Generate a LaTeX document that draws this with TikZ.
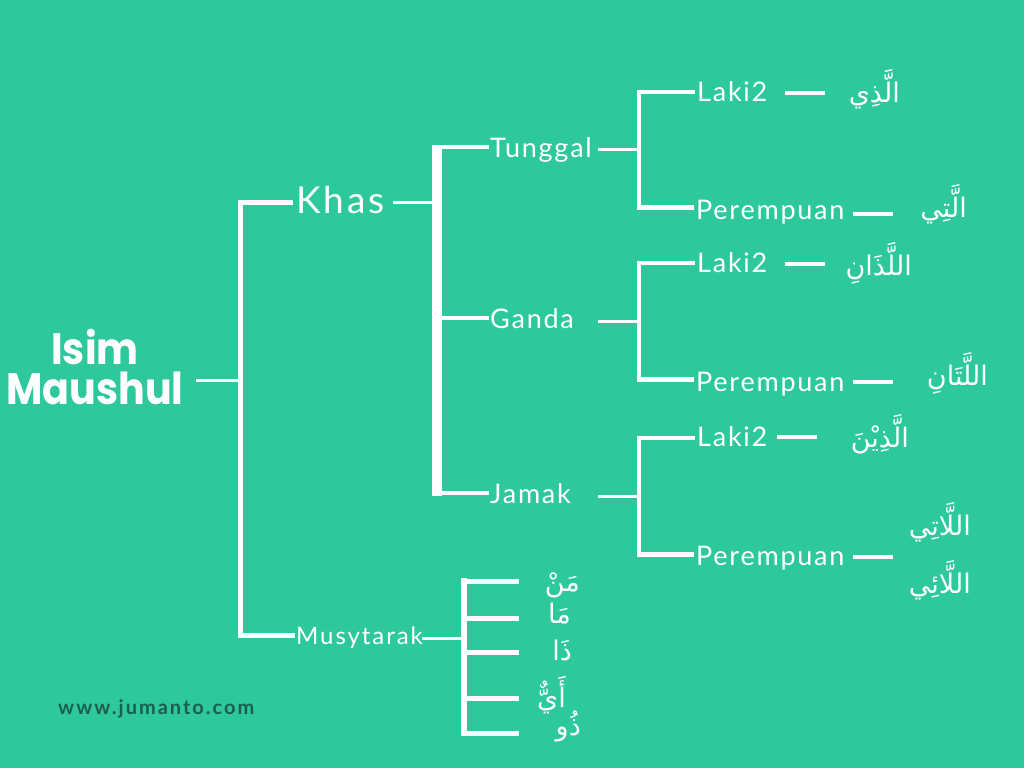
\documentclass[tikz,border=0pt]{standalone}
\usepackage{fontspec}
\setmainfont{Lato}
\newfontfamily\lato[LetterSpace=6.5]{Lato}
\newfontfamily\latok[LetterSpace=8]{Lato}
\newfontfamily\latom[LetterSpace=8]{Lato}
\newfontfamily\latow[LetterSpace=10]{Lato}
\newfontfamily\pop[FakeStretch=0.9]{Poppins}
\newfontfamily\arabicfont[Script=Arabic]{DejaVu Sans}
\TeXXeTstate=1
\definecolor{bg}{RGB}{45,201,157}
\definecolor{dk}{RGB}{27,94,75}
\begin{document}
\begin{tikzpicture}[x=1pt,y=-1pt,
  txt/.style={text=white,inner sep=0pt,anchor=base west},
  big/.style={txt,font=\latok\fontsize{37}{40}\selectfont},
  lbl/.style={txt,font=\lato\fontsize{27}{30}\selectfont},
  mlbl/.style={txt,font=\latom\fontsize{24}{28}\selectfont},
  title/.style={text=white,inner sep=0pt,anchor=base,font=\pop\bfseries\fontsize{44}{48}\selectfont},
  ar/.style={text=white,inner sep=0pt,anchor=base east,font=\arabicfont\fontsize{27}{30}\selectfont},
  lnA/.style={draw=white,line width=3pt},
  lnB/.style={draw=white,line width=4.5pt,line join=miter},
  lnC/.style={draw=white,line width=5pt,line join=miter},
  dashln/.style={draw=white,line width=4pt}]
\useasboundingbox (0,0) rectangle (1024,768);
\fill[bg] (0,0) rectangle (1024,768);

% ---- text nodes
\node[title] (isim1) at (95,364) {Isim};
\node[title] (isim2) at (95,404) {Maushul};
\node[big] (khas) at (296,213) {Khas};
\node[mlbl] (mus) at (296,644) {Musytarak};
\node[lbl] (tung) at (490,157) {Tunggal};
\node[lbl] (ganda) at (490,328) {Ganda};
\node[lbl] (jamak) at (490,503) {Jamak};
\node[lbl] (lakiA) at (697,101) {Laki2};
\node[lbl] (perA) at (696,219) {Perempuan};
\node[lbl] (lakiB) at (697,272) {Laki2};
\node[lbl] (perB) at (696,391) {Perempuan};
\node[lbl] (lakiC) at (697,446) {Laki2};
\node[lbl] (perC) at (696,565) {Perempuan};
\node[inner sep=0pt,anchor=base west,text=dk,font=\latow\bfseries\fontsize{20}{24}\selectfont] (web) at (58,714) {www.jumanto.com};

\node[ar] (arA1) at (900,102) {\beginR الَّذِي\endR};
\node[ar] (arA2) at (967,217) {\beginR الَّتِي\endR};
\node[ar] (arB1) at (912,275) {\beginR اللَّذَانِ\endR};
\node[ar] (arB2) at (988,385) {\beginR اللَّتَانِ\endR};
\node[ar] (arC1) at (909,447) {\beginR الَّذِيْنَ\endR};
\node[ar] (arC2) at (971,535) {\beginR اللَّاتِي\endR};
\node[ar] (arC3) at (971,593) {\beginR اللَّائِي\endR};
\node[ar] (m1) at (580,591) {\beginR مَنْ\endR};
\node[ar] (m2) at (571,623) {\beginR مَا\endR};
\node[ar] (m3) at (572,660) {\beginR ذَا\endR};
\node[ar] (m4) at (566,707) {\beginR أَيٌّ\endR};
\node[ar] (m5) at (581,735) {\beginR ذُو\endR};

% ---- junction coordinates
\coordinate (i0) at (196,380);
\coordinate (j0) at (240,380);
\coordinate (b1t) at (240,202);
\coordinate (b1b) at (240,635);
\coordinate (k0) at (393,202);
\coordinate (k1) at (436,202);
\coordinate (bart) at (436.5,145);
\coordinate (barb) at (436.5,496);
\coordinate (t0) at (598,149);
\coordinate (t1) at (639,149);
\coordinate (g0) at (598,321);
\coordinate (g1) at (639,321);
\coordinate (q0) at (598,496);
\coordinate (q1) at (639,496);
\coordinate (u0) at (422,638);
\coordinate (u1) at (464,638);

% ---- main bracket
\draw[lnA] (i0) -- (j0);
\draw[lnC] ([xshift=-3pt]b1t -| khas.west) -- (b1t) -- (b1b) -- ([xshift=-1pt]b1b -| mus.west);

% ---- Khas bracket
\draw[lnA] (k0) -- (k1);
\draw[draw=white,line width=10pt] (bart) -- (barb);
\draw[lnB] (441,147) -- ([xshift=-1pt]tung.west |- 0,147);
\draw[lnB] (441,318) -- ([xshift=-1pt]ganda.west |- 0,318);
\draw[lnB] (441,493) -- ([xshift=-1pt]jamak.west |- 0,493);

% ---- Tunggal
\draw[lnA] (t0) -- (t1);
\draw[lnB] ([xshift=-2pt]lakiA.west |- 0,92) -- (639,92) -- (639,207.5) -- ([xshift=-2pt]perA.west |- 0,207.5);
\draw[dashln] (785,93) -- (825,93);
\draw[dashln] (853,214) -- (893,214);

% ---- Ganda
\draw[lnA] (g0) -- (g1);
\draw[lnB] ([xshift=-2pt]lakiB.west |- 0,263) -- (639,263) -- (639,379.5) -- ([xshift=-2pt]perB.west |- 0,379.5);
\draw[dashln] (785,264) -- (825,264);
\draw[dashln] (853,382) -- (893,382);

% ---- Jamak
\draw[lnA] (q0) -- (q1);
\draw[lnB] ([xshift=-2pt]lakiC.west |- 0,438) -- (639,438) -- (639,554.5) -- ([xshift=-2pt]perC.west |- 0,554.5);
\draw[dashln] (777,437) -- (817,437);
\draw[dashln] (853,557) -- (893,557);

% ---- Musytarak
\draw[lnA] (u0) -- (u1);
\draw[draw=white,line width=6pt] (464,578) -- (464,736);
\foreach \yy in {581,618,652,698,733} {
  \draw[lnC] (464,\yy) -- (519,\yy);
}
\end{tikzpicture}
\end{document}
